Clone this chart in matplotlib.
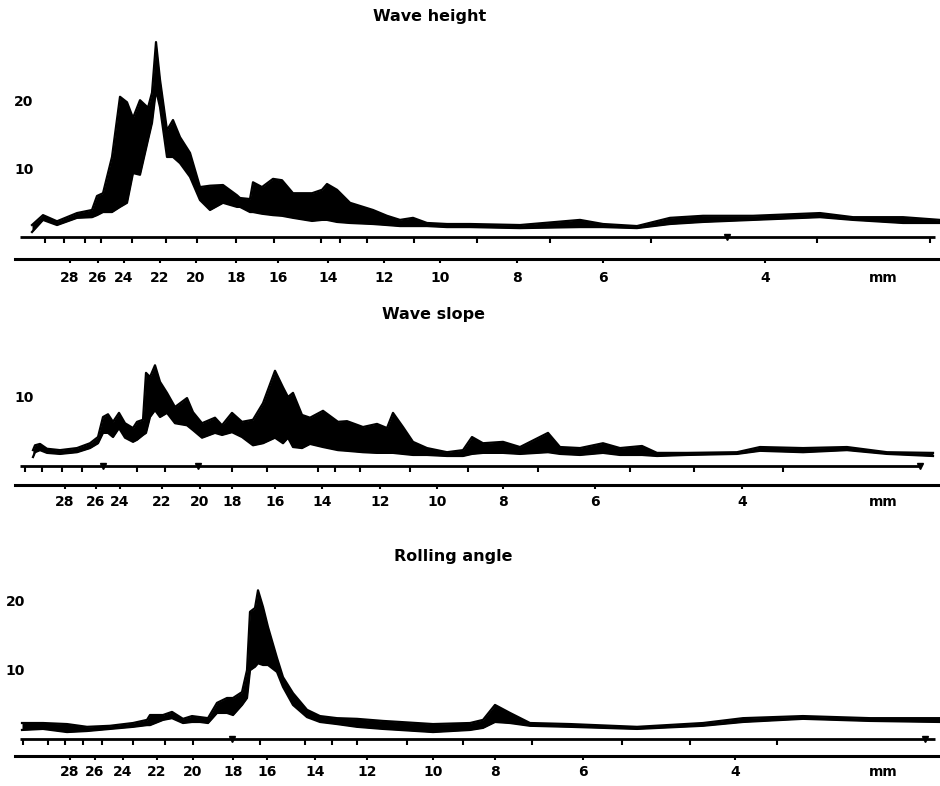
import numpy as np
import matplotlib.pyplot as plt

W, H = 940, 786

# ---- data: position along the record strip and the inked band (upper / lower edge)
height_x = [32, 43, 57, 77, 92, 97, 103, 112, 120, 127, 133, 140, 148, 152, 156, 160,
            167, 173, 180, 190, 200, 210, 223, 237, 240, 250, 253, 262, 273, 282, 293,
            312, 322, 327, 337, 350, 373, 387, 400, 413, 427, 447, 470, 520, 580, 603,
            637, 670, 703, 753, 820, 853, 903, 940]
height_hi = [1.75, 3.2, 2.3, 3.5, 3.95, 6.0, 6.4, 11.7, 20.5, 19.7, 17.4, 20.0, 18.9, 21.1,
             28.5, 23.0, 15.6, 17.1, 14.6, 12.3, 7.3, 7.5, 7.6, 6.1, 5.7, 5.55, 8.0, 7.3,
             8.5, 8.3, 6.4, 6.4, 6.9, 7.75, 6.9, 5.0, 3.95, 3.1, 2.5, 2.8, 2.05, 1.9, 1.9,
             1.75, 2.5, 1.9, 1.6, 2.8, 3.1, 3.1, 3.5, 2.9, 2.9, 2.5]
height_lo = [0.73, 2.5, 1.75, 2.8, 2.9, 3.2, 3.65, 3.65, 4.4, 5.0, 9.35, 9.1, 14.2, 16.7,
             21.5, 19.0, 11.7, 11.7, 10.8, 8.8, 5.4, 3.95, 5.0, 4.4, 4.4, 3.65, 3.65, 3.4,
             3.2, 3.1, 2.8, 2.35, 2.5, 2.5, 2.2, 2.05, 1.9, 1.75, 1.6, 1.6, 1.6, 1.45, 1.45,
             1.3, 1.45, 1.45, 1.3, 1.9, 2.2, 2.5, 2.9, 2.5, 2.05, 2.05]

slope_x = [33, 35, 40, 47, 60, 77, 90, 98, 103, 108, 113, 119, 125, 133, 137, 143, 146,
           150, 155, 160, 167, 175, 187, 193, 202, 215, 222, 232, 242, 253, 263, 275, 283,
           288, 293, 302, 310, 323, 338, 347, 363, 377, 387, 393, 403, 413, 427, 447, 463,
           472, 483, 503, 520, 548, 560, 580, 603, 620, 642, 657, 687, 737, 760, 803, 847,
           887, 933]
slope_hi = [2.3, 3.0, 3.2, 2.5, 2.3, 2.6, 3.3, 4.2, 7.1, 7.5, 6.4, 7.7, 6.2, 5.5, 6.4, 6.7,
            13.5, 12.9, 14.6, 12.2, 10.6, 8.55, 9.85, 7.8, 6.2, 7.0, 5.9, 7.7, 6.4, 6.7, 9.1,
            13.8, 11.4, 10.0, 10.6, 7.4, 7.0, 8.0, 6.4, 6.5, 5.65, 6.1, 5.5, 7.7, 5.65, 3.5,
            2.6, 2.0, 2.3, 4.2, 3.3, 3.5, 2.75, 4.8, 2.75, 2.6, 3.3, 2.6, 2.9, 1.9, 1.9, 2.0,
            2.75, 2.6, 2.75, 2.0, 1.9]
slope_lo = [1.3, 2.0, 2.3, 1.9, 1.75, 2.0, 2.6, 3.3, 4.8, 4.8, 4.2, 5.5, 4.1, 3.5, 3.8, 4.5,
            4.8, 7.1, 8.1, 7.1, 7.7, 6.2, 5.9, 5.2, 4.1, 4.8, 4.5, 4.9, 4.2, 3.0, 3.3, 4.1,
            3.3, 4.1, 2.75, 2.6, 3.2, 2.75, 2.3, 2.2, 2.0, 1.9, 1.9, 1.9, 1.75, 1.6, 1.6,
            1.45, 1.45, 1.75, 1.9, 1.9, 1.75, 2.0, 1.75, 1.6, 1.9, 1.6, 1.6, 1.45, 1.6, 1.75,
            2.2, 2.0, 2.3, 1.75, 1.45]

roll_x = [22, 43, 67, 87, 110, 133, 147, 150, 163, 172, 183, 192, 200, 208, 217, 227, 233,
          242, 247, 250, 255, 258, 263, 268, 277, 283, 293, 307, 320, 337, 357, 383, 400,
          433, 470, 483, 495, 510, 530, 570, 637, 703, 743, 803, 870, 940]
roll_hi = [2.3, 2.3, 2.15, 1.75, 1.9, 2.3, 2.75, 3.45, 3.45, 3.9, 2.9, 3.3, 3.15, 3.0, 5.2,
           5.9, 5.9, 6.75, 9.9, 18.3, 18.85, 21.4, 19.0, 16.1, 11.65, 8.9, 6.6, 4.2, 3.3,
           3.0, 2.9, 2.6, 2.45, 2.15, 2.3, 2.75, 4.9, 3.75, 2.3, 2.15, 1.75, 2.3, 3.0, 3.3,
           3.0, 3.0]
roll_lo = [1.3, 1.45, 1.0, 1.15, 1.45, 1.75, 2.0, 2.0, 2.75, 3.0, 2.3, 2.45, 2.45, 2.3, 3.75,
           3.75, 3.45, 4.9, 5.9, 9.9, 10.4, 10.9, 10.65, 10.65, 9.65, 7.5, 4.9, 3.15, 2.45,
           2.15, 1.75, 1.45, 1.3, 1.0, 1.3, 1.6, 2.45, 2.3, 1.9, 1.75, 1.45, 1.9, 2.45, 2.9,
           2.6, 2.45]

# recorder timing marks on the zero line
height_marks = [45, 64, 85, 101, 132, 166, 197, 236, 274, 321, 340, 367, 414, 477, 550,
                651, 817, 930]
height_tri = [727]
slope_marks = [25, 42, 62, 82, 137, 165, 232, 267, 318, 335, 360, 410, 468, 538, 630, 694, 783]
slope_tri = [103, 198, 920]
roll_marks = [23, 48, 65, 83, 102, 133, 165, 193, 260, 305, 332, 357, 407, 463, 532, 622,
              690, 777]
roll_tri = [232, 925]

# wavelength scale (mm) under each trace
wl_labels = ['28', '26', '24', '22', '20', '18', '16', '14', '12', '10', '8', '6', '4']
height_wl_pos = [70, 98, 124, 160, 196, 236, 278, 328, 384, 440, 517, 603, 765]
slope_wl_pos = [65, 96, 120, 162, 200, 232, 275, 322, 380, 437, 503, 595, 742]
roll_wl_pos = [70, 95, 123, 157, 193, 233, 267, 315, 367, 433, 495, 583, 735]

height_yticks = [10, 20]
slope_yticks = [10]
roll_yticks = [10, 20]

titles = ['Wave height', 'Wave slope', 'Rolling angle']

fig = plt.figure(figsize=(W / 100, H / 100), dpi=100)
fig.patch.set_facecolor('white')


def panel(x, hi, lo, marks, tri, wl_pos, yticks, title, top, base, axis, ppu,
          title_xy, ylab_pad, xlab_pad, trace_end=940):
    ax = fig.add_axes([0, 1 - axis / H, 1, (axis - top) / H])
    ax.set_xlim(0, W)
    ax.set_ylim(-(axis - base) / ppu, (base - top) / ppu)
    ax.patch.set_alpha(0)

    ax.fill_between(x, lo, hi, color='black', lw=0)
    ax.plot(x, hi, color='black', lw=1.6, solid_joinstyle='round')
    ax.plot(x, lo, color='black', lw=1.6, solid_joinstyle='round')

    # zero line of the recorder and its timing marks
    ax.hlines(0, 20, trace_end - 5, color='black', lw=2)
    ax.vlines(marks, -0.9, 0, color='black', lw=1.5)
    ax.plot(tri, np.zeros(len(tri)), 'v', color='black', ms=5)

    for s in ['top', 'right', 'left']:
        ax.spines[s].set_visible(False)
    ax.spines['bottom'].set_bounds(15, W)
    ax.spines['bottom'].set_linewidth(2.2)

    ax.set_xticks(wl_pos + [883], wl_labels + ['mm'])
    ax.xaxis.get_major_ticks()[-1].tick1line.set_visible(False)
    ax.tick_params(axis='x', direction='out', length=3, width=1.5, pad=xlab_pad,
                   labelsize=10)
    for t in ax.get_xticklabels():
        t.set_fontweight('bold')

    ax.set_yticks(yticks, [str(v) for v in yticks])
    ax.tick_params(axis='y', length=0, pad=ylab_pad, labelsize=10)
    for t in ax.get_yticklabels():
        t.set_fontweight('bold')

    fig.text(title_xy[0] / W, 1 - title_xy[1] / H, title, ha='center', va='center',
             fontsize=11.5, fontweight='bold')
    return ax


panel(height_x, height_hi, height_lo, height_marks, height_tri, height_wl_pos,
      height_yticks, titles[0], 30, 237, 259, 6.84, (430, 17), -24, 6)
panel(slope_x, slope_hi, slope_lo, slope_marks, slope_tri, slope_wl_pos,
      slope_yticks, titles[1], 340, 466, 485, 6.9, (433, 315), -24, 4, trace_end=925)
panel(roll_x, roll_hi, roll_lo, roll_marks, roll_tri, roll_wl_pos,
      roll_yticks, titles[2], 580, 739, 756, 6.95, (453, 557), -18, 3.5)

fig.savefig('out.png', dpi=100)
